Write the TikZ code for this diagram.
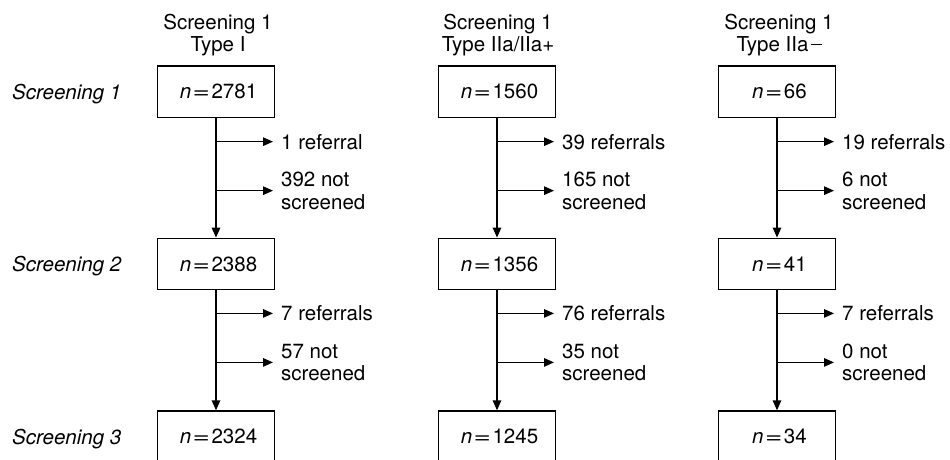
\documentclass[tikz,border=0pt]{standalone}
\usepackage{fontspec}
\setmainfont{TeX Gyre Heros}
\usetikzlibrary{arrows.meta}
\newcommand{\ncount}[1]{\hspace*{5pt}\textit{n}\hspace{1.5pt}\scalebox{1.45}[1]{=}\hspace{1.5pt}#1}
\newcommand{\longminus}{\hspace{2pt}\rule[5.6pt]{11pt}{1.6pt}}
\begin{document}
\begin{tikzpicture}[x=1pt,y=-1pt,
  txt/.style={font=\fontsize{20.5}{22.5}\selectfont},
  countbox/.style={txt, draw, line width=1.3pt, minimum width=117pt, minimum height=51.5pt, inner sep=0pt},
  flow/.style={line width=1.3pt, -{Triangle[length=10pt,width=8.5pt]}},
  branch/.style={line width=1.3pt, -{Triangle[length=10pt,width=8.5pt]}},
  outlabel/.style={txt, anchor=west, align=left, inner xsep=8pt, inner ysep=0pt},
  rowlabel/.style={anchor=base west, font=\fontsize{20.5}{22.5}\selectfont\itshape, inner sep=0pt},
  header/.style={txt, anchor=base, inner sep=0pt}]

\useasboundingbox (0,0) rectangle (950,459);
\clip (0,0) rectangle (950,459);

% row labels
\node[rowlabel] (r1) at (12,99) {Screening 1};
\node[rowlabel] (r2) at (12,271) {Screening 2};
\node[rowlabel] (r3) at (12,444) {Screening 3};

% column headers
\node[header] (h1a) at (218,29) {Screening 1};
\node[header] (h1b) at (218,51) {Type I};
\node[header] (h2a) at (498,29) {Screening 1};
\node[header] (h2b) at (498,51) {Type IIa/IIa+};
\node[header] (h3a) at (779,29) {Screening 1};
\node[header] (h3b) at (779,51) {Type IIa\longminus};

% count boxes
\node[countbox] (a1) at (216,91.75) {\ncount{2781}};
\node[countbox] (a2) at (216,264) {\ncount{2388}};
\node[countbox] (a3) at (216,436.75) {\ncount{2324}};
\node[countbox] (b1) at (497,91.75) {\ncount{1560}};
\node[countbox] (b2) at (497,264) {\ncount{1356}};
\node[countbox] (b3) at (497,436.75) {\ncount{1245}};
\node[countbox] (c1) at (777,91.75) {\ncount{66}};
\node[countbox] (c2) at (777,264) {\ncount{41}};
\node[countbox] (c3) at (777,436.75) {\ncount{34}};

% main flow and branch points
\foreach \c in {a,b,c}{
  \draw[flow] (\c1.south) -- (\c2.north);
  \draw[flow] (\c2.south) -- (\c3.north);
  \coordinate (\c1r) at ([yshift=-23.5pt]\c1.south);
  \coordinate (\c1n) at ([yshift=-72.5pt]\c1.south);
  \coordinate (\c2r) at ([yshift=-23pt]\c2.south);
  \coordinate (\c2n) at ([yshift=-72pt]\c2.south);
}

% side branch labels
\node[outlabel] (a1rl) at ([xshift=57pt]a1r) {1 referral};
\node[outlabel] (a1nl) at ([xshift=57pt]a1n) {392 not\\screened};
\node[outlabel] (a2rl) at ([xshift=57pt]a2r) {7 referrals};
\node[outlabel] (a2nl) at ([xshift=57pt]a2n) {57 not\\screened};
\node[outlabel] (b1rl) at ([xshift=57pt]b1r) {39 referrals};
\node[outlabel] (b1nl) at ([xshift=57pt]b1n) {165 not\\screened};
\node[outlabel] (b2rl) at ([xshift=57pt]b2r) {76 referrals};
\node[outlabel] (b2nl) at ([xshift=57pt]b2n) {35 not\\screened};
\node[outlabel] (c1rl) at ([xshift=57pt]c1r) {19 referrals};
\node[outlabel] (c1nl) at ([xshift=57pt]c1n) {6 not\\screened};
\node[outlabel] (c2rl) at ([xshift=57pt]c2r) {7 referrals};
\node[outlabel] (c2nl) at ([xshift=57pt]c2n) {0 not\\screened};

\foreach \s in {a1r,a1n,a2r,a2n,b1r,b1n,b2r,b2n,c1r,c1n,c2r,c2n}{
  \draw[branch] (\s) -- (\s l.west);
}
\end{tikzpicture}
\end{document}
